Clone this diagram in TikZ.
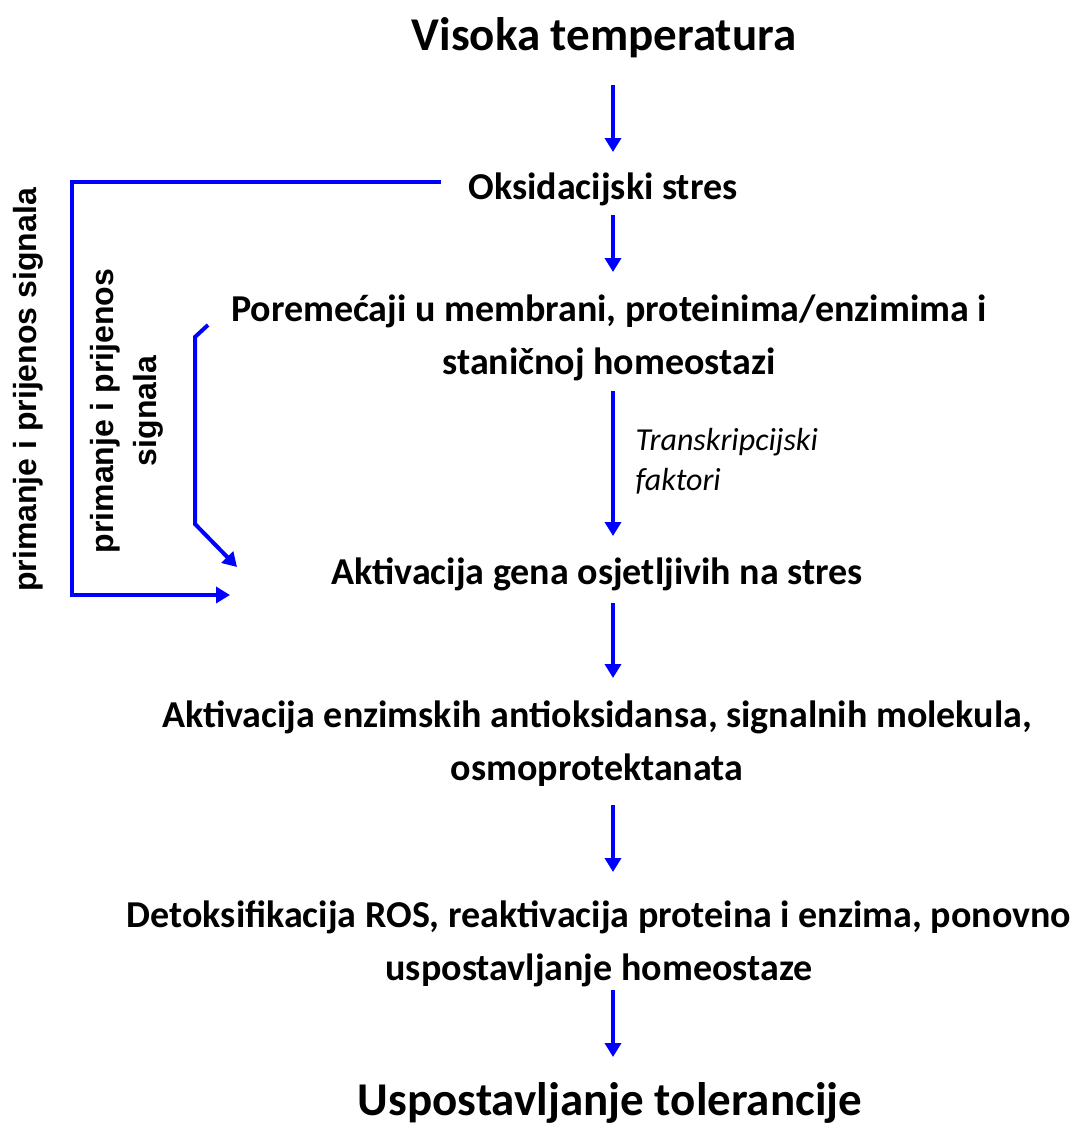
\documentclass[tikz,border=0pt]{standalone}
\usepackage{fontspec}
\setmainfont{Carlito}
\newfontfamily\lsans{Liberation Sans}
\usetikzlibrary{arrows.meta}
\definecolor{arrblue}{RGB}{0,0,255}
\begin{document}
\begin{tikzpicture}[x=1pt,y=-1pt,
  flow/.style={draw=arrblue,line width=4.5pt,-{Triangle[width=16pt,length=14pt]}},
  brk/.style={draw=arrblue,line width=4pt,line join=miter,-{Triangle[width=16pt,length=14pt]}},
  big/.style={font=\fontsize{47}{56}\selectfont\bfseries,anchor=center},
  mid/.style={font=\fontsize{38}{53}\selectfont\bfseries,align=center,anchor=center},
  side/.style={font=\lsans\fontsize{32}{43}\selectfont\bfseries,align=center,rotate=90,anchor=center}]
\useasboundingbox (0,0) rectangle (1071,1137);
\node[big] (t0) at (604,38) {Visoka temperatura};
\node[mid] (t1) at (603,189) {Oksidacijski stres};
\node[mid] (t2) at (609,338) {Poremećaji u membrani, proteinima/enzimima i\\staničnoj homeostazi};
\node[font=\fontsize{32}{40}\selectfont\itshape,align=left,anchor=west] (tf) at (632,461) {Transkripcijski\\faktori};
\node[mid] (t3) at (597,574) {Aktivacija gena osjetljivih na stres};
\node[mid] (t4) at (597,744) {Aktivacija enzimskih antioksidansa, signalnih molekula,\\osmoprotektanata};
\node[mid] (t5) at (599,944) {Detoksifikacija ROS, reaktivacija proteina i enzima, ponovno\\uspostavljanje homeostaze};
\node[big] (t6) at (610,1103) {Uspostavljanje tolerancije};
\node[side] (s1) at (28,390) {primanje i prijenos signala};
\node[side] (s2) at (127,411) {primanje i prijenos\\signala};
\coordinate (a0s) at (613,85);  \coordinate (a0e) at (613,152);
\coordinate (a1s) at (613,215); \coordinate (a1e) at (613,272);
\coordinate (a2s) at (613,391); \coordinate (a2e) at (613,536);
\coordinate (a3s) at (613,603); \coordinate (a3e) at (613,678);
\coordinate (a4s) at (613,805); \coordinate (a4e) at (613,872);
\coordinate (a5s) at (613,990); \coordinate (a5e) at (613,1057);
\draw[flow] (a0s) -- (a0e);
\draw[flow] (a1s) -- (a1e);
\draw[flow] (a2s) -- (a2e);
\draw[flow] (a3s) -- (a3e);
\draw[flow] (a4s) -- (a4e);
\draw[flow] (a5s) -- (a5e);
\coordinate (o1) at (441,181.5);
\coordinate (o2) at (230,595);
\draw[brk] (o1) -- (72,181.5) -- (72,595) -- (o2);
\coordinate (i1) at (208,325);
\coordinate (i2) at (237,567);
\draw[brk] (i1) -- (195,337) -- (195,524) -- (i2);
\end{tikzpicture}
\end{document}
